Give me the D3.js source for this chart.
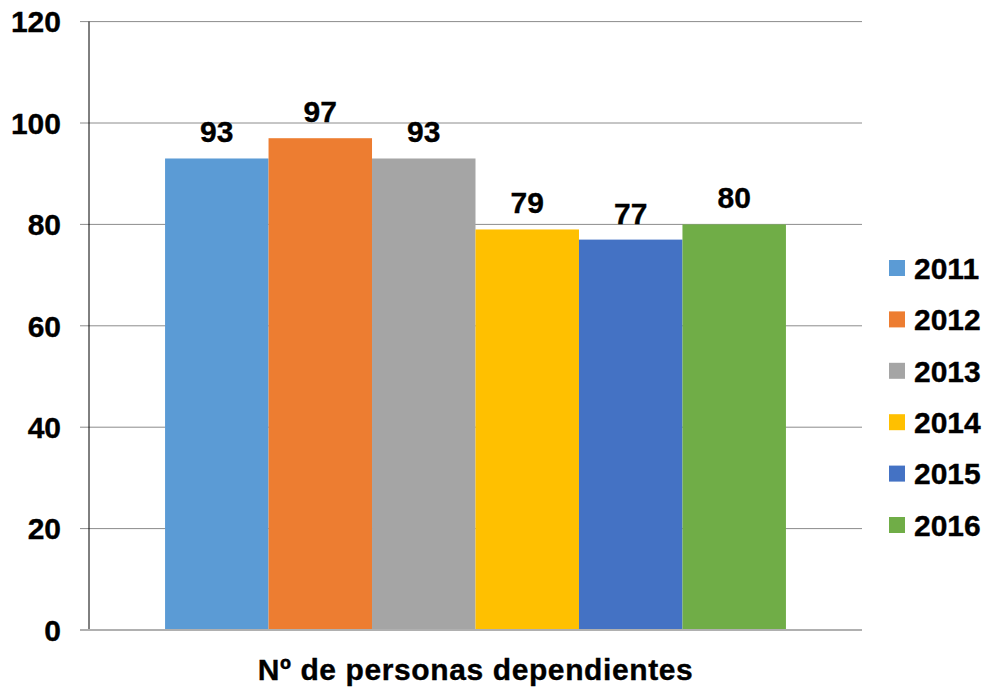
<!DOCTYPE html>
<html>
<head>
<meta charset="utf-8">
<script src="https://cdn.jsdelivr.net/npm/d3@7"></script>
<style>
  body { margin: 0; background: #fff; }
  text { font-family: "Liberation Sans", Arial, sans-serif; font-weight: bold; fill: #000; stroke: #000; stroke-width: 0.35px; }
</style>
</head>
<body>
<div id="chart"></div>
<script>
// data
const years = ['2011', '2012', '2013', '2014', '2015', '2016'];
const values = [93, 97, 93, 79, 77, 80];
const colors = ['#5B9BD5', '#ED7D31', '#A5A5A5', '#FFC000', '#4472C4', '#70AD47'];
const yTicks = [0, 20, 40, 60, 80, 100, 120];
const categoryLabel = 'Nº de personas dependientes';

const width = 989, height = 693;
const margin = { top: 21.6, right: 127, bottom: 63, left: 89 };
const plotW = width - margin.left - margin.right;
const plotH = height - margin.top - margin.bottom;

const svg = d3.select('#chart').append('svg')
  .attr('width', width)
  .attr('height', height);

const g = svg.append('g')
  .attr('transform', `translate(${margin.left},${margin.top})`);

const y = d3.scaleLinear().domain([0, 120]).range([plotH, 0]);
const x = d3.scaleBand().domain(years).range([0, plotW])
  .paddingInner(0).paddingOuter(0.735);

// gridlines
g.selectAll('.grid')
  .data(yTicks.filter(t => t > 0))
  .join('line')
  .attr('class', 'grid')
  .attr('x1', -9).attr('x2', plotW)
  .attr('y1', d => y(d)).attr('y2', d => y(d))
  .attr('stroke', '#8c8c8c')
  .attr('stroke-width', 1);

// bars
g.selectAll('.bar')
  .data(values)
  .join('rect')
  .attr('class', 'bar')
  .attr('x', (d, i) => x(years[i]))
  .attr('y', d => y(d))
  .attr('width', x.bandwidth())
  .attr('height', d => plotH - y(d))
  .attr('fill', (d, i) => colors[i]);

// value labels
g.selectAll('.val')
  .data(values)
  .join('text')
  .attr('class', 'val')
  .attr('x', (d, i) => x(years[i]) + x.bandwidth() / 2)
  .attr('y', d => y(d) - 16)
  .attr('text-anchor', 'middle')
  .attr('font-size', 30)
  .text(d => d);

// y axis line
g.append('line')
  .attr('x1', 0).attr('x2', 0)
  .attr('y1', 0).attr('y2', plotH)
  .attr('stroke', '#000').attr('stroke-width', 1);

// zero line
g.append('line')
  .attr('x1', -9).attr('x2', plotW)
  .attr('y1', plotH).attr('y2', plotH)
  .attr('stroke', '#b0b0b0').attr('stroke-width', 2);

// y tick labels
g.selectAll('.ytick')
  .data(yTicks)
  .join('text')
  .attr('class', 'ytick')
  .attr('x', -28)
  .attr('y', d => y(d))
  .attr('dy', '0.36em')
  .attr('text-anchor', 'end')
  .attr('font-size', 30)
  .text(d => d);

// category label
svg.append('text')
  .attr('x', margin.left + plotW / 2)
  .attr('y', 680)
  .attr('text-anchor', 'middle')
  .attr('font-size', 30)
  .attr('letter-spacing', 0.6)
  .text(categoryLabel);

// legend
const legend = svg.append('g').attr('transform', 'translate(889,268)');
const rows = legend.selectAll('.leg')
  .data(years)
  .join('g')
  .attr('class', 'leg')
  .attr('transform', (d, i) => `translate(0,${i * 51.4})`);
rows.append('rect')
  .attr('x', 0).attr('y', -8)
  .attr('width', 16).attr('height', 16)
  .attr('fill', (d, i) => colors[i]);
rows.append('text')
  .attr('x', 25)
  .attr('y', 0)
  .attr('dy', '0.36em')
  .attr('font-size', 30)
  .text(d => d);
</script>
</body>
</html>
